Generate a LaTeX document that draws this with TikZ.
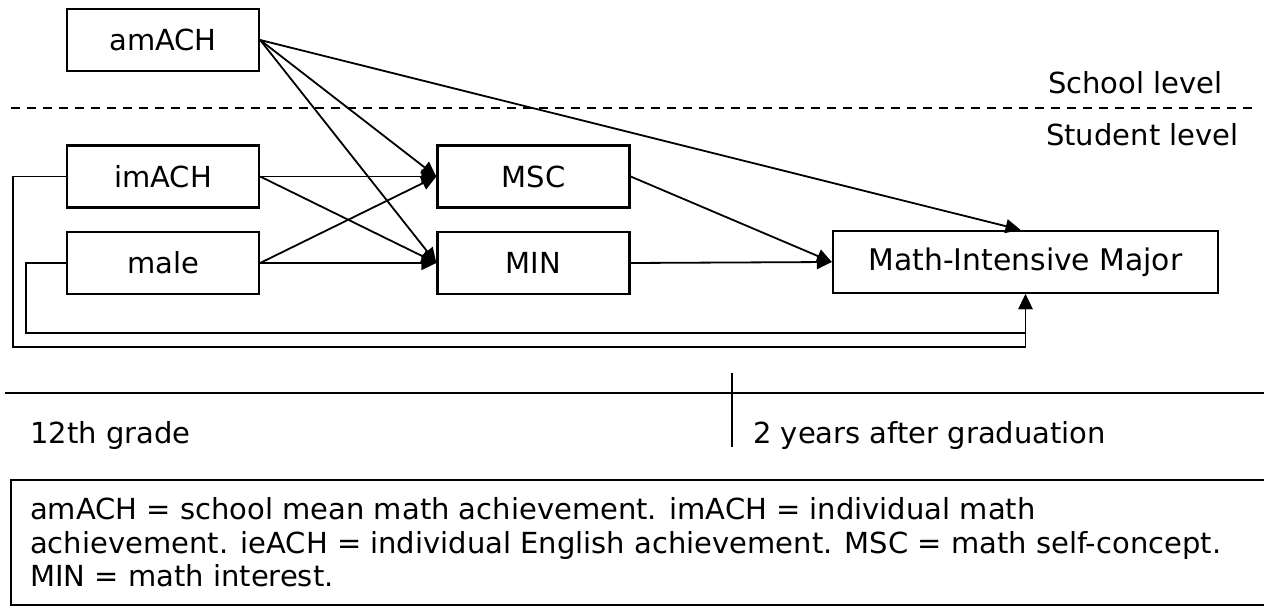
\documentclass[tikz,border=0pt]{standalone}
\usepackage{fontspec}
\setmainfont{DejaVu Sans}
\usetikzlibrary{arrows.meta}
\begin{document}
\begin{tikzpicture}[x=1pt,y=-1pt,
  box/.style={draw,line width=2.3pt,rectangle,inner sep=0pt,minimum width=192pt,minimum height=62pt,font=\fontsize{29}{35}\selectfont},
  arr/.style={line width=1.8pt,-{Triangle[length=15pt,width=14pt]}},
  lbl/.style={inner sep=0pt,anchor=base west,font=\fontsize{29}{35}\selectfont},
  leg/.style={inner sep=0pt,anchor=base west,font=\fontsize{29}{33}\selectfont}]
\useasboundingbox (0,0) rectangle (1264,609);
% level separator
\draw[line width=1.6pt,dash pattern=on 9pt off 7pt] (11,108) -- (1255,108);
\node[lbl] (school) at (1048,94) {School level};
\node[lbl] (student) at (1046,146) {Student level};
% nodes
\node[box] (amACH) at (163,40) {amACH};
\node[box] (imACH) at (163,176.5) {imACH};
\node[box] (male) at (163,263) {male};
\node[box] (MSC) at (533.5,176.5) {MSC};
\node[box] (MIN) at (533.5,263) {MIN};
\node[box,minimum width=385pt,font=\fontsize{29.8}{35}\selectfont] (major) at (1025.5,262) {Math-Intensive Major};
% arrows
\draw[arr] (amACH.east) -- (MSC.west);
\draw[arr] (amACH.east) -- (MIN.west);
\draw[arr] (amACH.east) -- ([xshift=-5pt]major.north);
\draw[arr] (imACH.east) -- (MSC.west);
\draw[arr] (imACH.east) -- (MIN.west);
\draw[arr] (male.east) -- (MSC.west);
\draw[arr] (male.east) -- (MIN.west);
\draw[arr] (MSC.east) -- (major.west);
\draw[arr] (MIN.east) -- (major.west);
% feedback paths
\coordinate (fbA) at (13,347);
\coordinate (fbB) at (26,333);
\draw[arr] (imACH.west) -| (fbA) -| (major.south);
\draw[arr] (male.west) -| (fbB) -| (major.south);
% timeline
\coordinate (tlL) at (5,393);
\coordinate (tlR) at (1270,393);
\coordinate (tvT) at (732,373);
\coordinate (tvB) at (732,447);
\draw[line width=2pt] (tlL) -- (tlR);
\draw[line width=1.3pt] (tvT) -- (tvB);
\node[lbl] (g12) at (30,443) {12th grade};
\node[lbl] (g2y) at (753,443) {2 years after graduation};
% legend
\coordinate (lgA) at (1270,480);
\coordinate (lgB) at (11,480);
\coordinate (lgC) at (11,605);
\coordinate (lgD) at (1270,605);
\draw[line width=2.2pt] (lgA) -- (lgB) -- (lgC) -- (lgD);
\node[leg] (l1) at (30,519) {amACH = school mean math achievement. imACH = individual math};
\node[leg] (l2) at (30,553) {achievement. ieACH = individual English achievement. MSC = math self-concept.};
\node[leg] (l3) at (30,586) {MIN = math interest.};
\end{tikzpicture}
\end{document}
